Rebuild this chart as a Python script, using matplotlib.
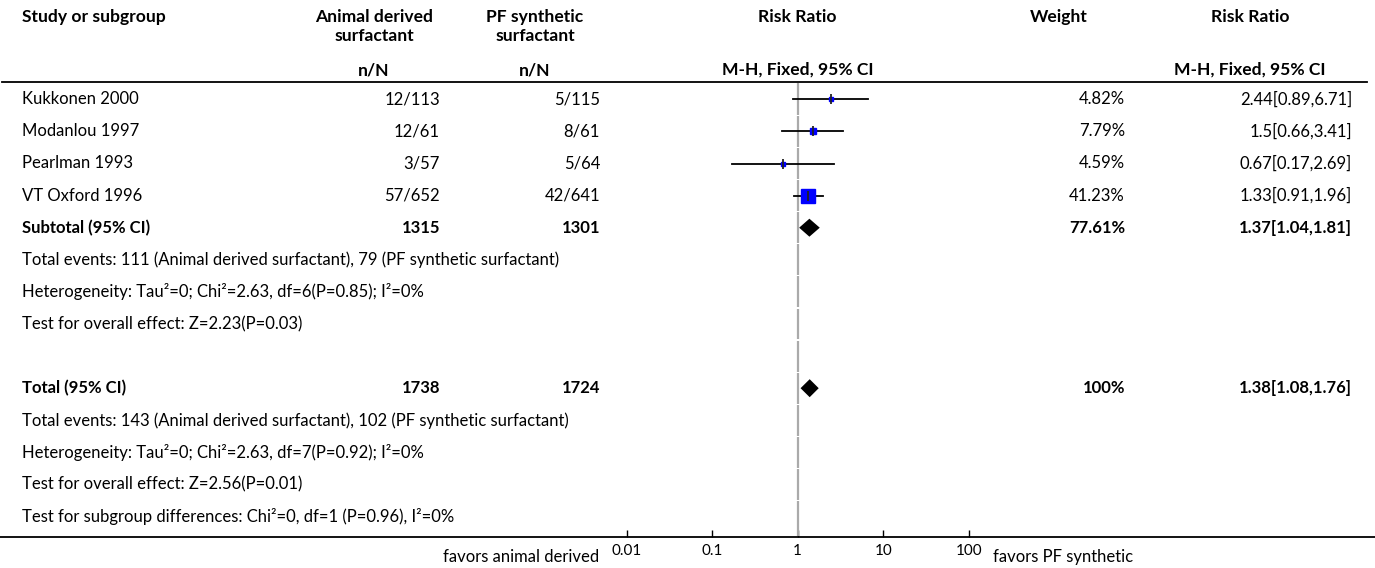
import numpy as np
import matplotlib
matplotlib.use('Agg')
import matplotlib.pyplot as plt

plt.rcParams['font.family'] = ['Lato', 'DejaVu Sans']

# study rows
studies = ['Kukkonen 2000', 'Modanlou 1997', 'Pearlman 1993', 'VT Oxford 1996']
animal_nN = ['12/113', '12/61', '3/57', '57/652']
pf_nN = ['5/115', '8/61', '5/64', '42/641']
rr = [2.44, 1.5, 0.67, 1.33]
ci_lo = [0.89, 0.66, 0.17, 0.91]
ci_hi = [6.71, 3.41, 2.69, 1.96]
weights = [4.82, 7.79, 4.59, 41.23]

# pooled rows
sub_total = ['1315', '1301']
sub_rr, sub_lo, sub_hi, sub_w = 1.37, 1.04, 1.81, 77.61
tot_total = ['1738', '1724']
tot_rr, tot_lo, tot_hi, tot_w = 1.38, 1.08, 1.76, 100

sub_notes = ['Total events: 111 (Animal derived surfactant), 79 (PF synthetic surfactant)',
             'Heterogeneity: Tau\u00b2=0; Chi\u00b2=2.63, df=6(P=0.85); I\u00b2=0%',
             'Test for overall effect: Z=2.23(P=0.03)']
tot_notes = ['Total events: 143 (Animal derived surfactant), 102 (PF synthetic surfactant)',
             'Heterogeneity: Tau\u00b2=0; Chi\u00b2=2.63, df=7(P=0.92); I\u00b2=0%',
             'Test for overall effect: Z=2.56(P=0.01)',
             'Test for subgroup differences: Chi\u00b2=0, df=1 (P=0.96), I\u00b2=0%']

xticks = [0.01, 0.1, 1, 10, 100]
xtick_labels = ['0.01', '0.1', '1', '10', '100']

W, H = 1375, 568
row0, step = 99.3, 32.1          # pixel centre of first row, row pitch
def row_of(py):
    return (py - row0) / step

fig = plt.figure(figsize=(W / 100, H / 100), dpi=100)
tab = fig.add_axes([0, 0, 1, 1])
tab.set_xlim(0, W)
tab.set_ylim(row_of(H), row_of(0))
tab.axis('off')

fs = 12
hdr = dict(fontsize=12.6, fontweight='bold', va='center', color='black')
body = dict(fontsize=fs, va='center', color='black')

# header
tab.text(22, row_of(17), 'Study or subgroup', ha='left', **hdr)
tab.text(374, row_of(17), 'Animal derived', ha='center', **hdr)
tab.text(374, row_of(36), 'surfactant', ha='center', **hdr)
tab.text(535, row_of(17), 'PF synthetic', ha='center', **hdr)
tab.text(535, row_of(36), 'surfactant', ha='center', **hdr)
tab.text(374, row_of(70), 'n/N', ha='center', **hdr)
tab.text(535, row_of(70), 'n/N', ha='center', **hdr)
tab.text(797.7, row_of(17), 'Risk Ratio', ha='center', **hdr)
tab.text(797.7, row_of(70), 'M-H, Fixed, 95% CI', ha='center', **hdr)
tab.text(1059, row_of(17), 'Weight', ha='center', **hdr)
tab.text(1250, row_of(17), 'Risk Ratio', ha='center', **hdr)
tab.text(1250, row_of(70), 'M-H, Fixed, 95% CI', ha='center', **hdr)

tab.plot([2, 1367], [row_of(82), row_of(82)], color='black', lw=1.3)
tab.plot([0, W], [row_of(537), row_of(537)], color='black', lw=1.3)

# study rows
for i, name in enumerate(studies):
    tab.text(22, i, name, ha='left', **body)
    tab.text(440, i, animal_nN[i], ha='right', **body)
    tab.text(600, i, pf_nN[i], ha='right', **body)
    tab.text(1125, i, f'{weights[i]:.2f}%', ha='right', **body)
    tab.text(1352, i, f'{rr[i]:g}[{ci_lo[i]:.2f},{ci_hi[i]:.2f}]', ha='right', **body)

n = len(studies)
bold = dict(body, fontweight='bold')
tab.text(22, n, 'Subtotal (95% CI)', ha='left', **bold)
tab.text(440, n, sub_total[0], ha='right', **bold)
tab.text(600, n, sub_total[1], ha='right', **bold)
tab.text(1125, n, f'{sub_w:.2f}%', ha='right', **bold)
tab.text(1352, n, f'{sub_rr:.2f}[{sub_lo:.2f},{sub_hi:.2f}]', ha='right', **bold)
for j, t in enumerate(sub_notes):
    tab.text(22, n + 1 + j, t, ha='left', **body)

r_tot = n + len(sub_notes) + 2
tab.text(22, r_tot, 'Total (95% CI)', ha='left', **bold)
tab.text(440, r_tot, tot_total[0], ha='right', **bold)
tab.text(600, r_tot, tot_total[1], ha='right', **bold)
tab.text(1125, r_tot, f'{tot_w}%', ha='right', **bold)
tab.text(1352, r_tot, f'{tot_rr:.2f}[{tot_lo:.2f},{tot_hi:.2f}]', ha='right', **bold)
for j, t in enumerate(tot_notes):
    tab.text(22, r_tot + 1 + j, t, ha='left', **body)

tab.text(599, row_of(557), 'favors animal derived', ha='right', **body)
tab.text(993, row_of(557), 'favors PF synthetic', ha='left', **body)

# forest plot axes
x0, x1 = 616.6, 978.8
y_top, y_bot = 82, 537
ax = fig.add_axes([x0 / W, 1 - y_bot / H, (x1 - x0) / W, (y_bot - y_top) / H])
ax.set_xscale('log')
ax.set_xlim(10 ** -2.116, 10 ** 2.116)
ax.set_ylim(row_of(y_bot), row_of(y_top))
ax.patch.set_alpha(0)
for s in ['top', 'left', 'right', 'bottom']:
    ax.spines[s].set_visible(False)
ax.set_yticks([])
ax.set_xticks(xticks)
ax.set_xticklabels(xtick_labels)
ax.minorticks_off()
ax.tick_params(axis='x', direction='in', length=5, width=1, pad=5, labelsize=11)

# null line with small gaps at row borders
last = r_tot + len(tot_notes)
edges = [row_of(y_top)] + [k + 0.5 for k in range(last)] + [row_of(y_bot)]
for a, b in zip(edges[:-1], edges[1:]):
    ax.vlines(1, a + 0.02, b - 0.02, color='#aaaaaa', lw=1.6)

side = 13.7 * np.sqrt(np.array(weights) / max(weights))
for i in range(n):
    ax.plot([ci_lo[i], ci_hi[i]], [i, i], color='black', lw=1.3)
    ax.plot(rr[i], i, marker='s', ms=side[i] * 0.72, color='#0000ff', mec='#0000ff')
    ax.plot(rr[i], i, marker='|', ms=6.5, mew=1.3, color='#222222')

dh = 9 / step
for (m, lo, hi, r) in [(sub_rr, sub_lo, sub_hi, n), (tot_rr, tot_lo, tot_hi, r_tot)]:
    ax.fill([lo, m, hi, m], [r, r - dh, r, r + dh], color='black', lw=0)

fig.savefig('out.png', dpi=100)
